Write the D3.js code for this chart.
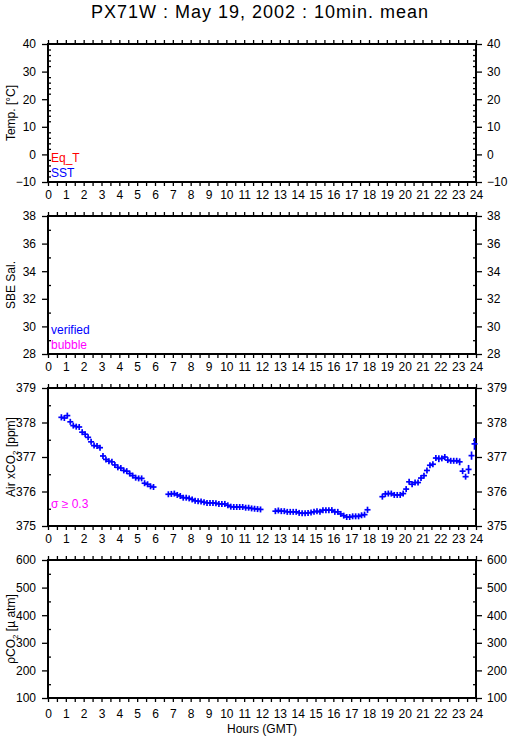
<!DOCTYPE html>
<html>
<head>
<meta charset="utf-8">
<script src="https://cdn.jsdelivr.net/npm/d3@7"></script>
<style>
body { margin: 0; background: #fff; }
text { font-family: "Liberation Sans", Arial, Helvetica, sans-serif; }
</style>
</head>
<body>
<script>
// 10-minute means of Air xCO2, four continuous runs (start time of each run)
const runStart = ['00:45', '06:45', '12:45', '18:45']
const xco2Run1 = [378.15, 378.13, 378.20, 378.02, 377.91, 377.88, 377.87, 377.72, 377.66, 377.57, 377.44, 377.33,
    377.32, 377.27, 377.03, 376.93, 376.88, 376.86, 376.77, 376.70, 376.68, 376.61, 376.59, 376.52,
    376.46, 376.40, 376.38, 376.38, 376.24, 376.21, 376.15, 376.13]
const xco2Run2 = [375.92, 375.93, 375.94, 375.90, 375.87, 375.82, 375.82, 375.80, 375.77, 375.73, 375.72, 375.71,
    375.69, 375.67, 375.67, 375.67, 375.66, 375.64, 375.64, 375.64, 375.60, 375.56, 375.55, 375.55,
    375.55, 375.55, 375.53, 375.53, 375.51, 375.50, 375.49, 375.48]
const xco2Run3 = [375.43, 375.45, 375.43, 375.43, 375.41, 375.41, 375.41, 375.41, 375.38, 375.37, 375.37, 375.38,
    375.39, 375.41, 375.43, 375.41, 375.46, 375.46, 375.46, 375.46, 375.41, 375.41, 375.35, 375.30,
    375.26, 375.26, 375.28, 375.28, 375.28, 375.31, 375.33, 375.47]
const xco2Run4 = [375.85, 375.93, 375.94, 375.94, 375.90, 375.90, 375.90, 375.94, 376.07, 376.28, 376.21, 376.26,
    376.26, 376.39, 376.46, 376.61, 376.76, 376.79, 376.97, 376.95, 376.96, 377.00, 376.91, 376.89,
    376.89, 376.89, 376.86, 376.59, 376.43, 376.64, 377.04, 377.38]
// standard deviation of each 10-minute mean
const sdRun1 = [0.09, 0.07, 0.06, 0.04, 0.05, 0.06, 0.05, 0.06, 0.05, 0.06, 0.07, 0.05,
    0.04, 0.04, 0.06, 0.04, 0.03, 0.04, 0.04, 0.03, 0.03, 0.04, 0.03, 0.04,
    0.04, 0.07, 0.08, 0.05, 0.03, 0.03, 0.03, 0.02]
const sdRun2 = [0.04, 0.03, 0.04, 0.03, 0.03, 0.03, 0.03, 0.03, 0.03, 0.03, 0.03, 0.03,
    0.03, 0.03, 0.03, 0.03, 0.03, 0.03, 0.03, 0.03, 0.03, 0.03, 0.03, 0.03,
    0.03, 0.03, 0.03, 0.03, 0.03, 0.03, 0.03, 0.03]
const sdRun3 = [0.03, 0.04, 0.03, 0.03, 0.03, 0.03, 0.03, 0.03, 0.04, 0.04, 0.03, 0.03,
    0.03, 0.04, 0.03, 0.03, 0.04, 0.03, 0.03, 0.03, 0.03, 0.03, 0.03, 0.03,
    0.03, 0.03, 0.04, 0.03, 0.03, 0.03, 0.04, 0.09]
const sdRun4 = [0.03, 0.04, 0.04, 0.03, 0.04, 0.03, 0.03, 0.03, 0.06, 0.07, 0.05, 0.04,
    0.05, 0.07, 0.06, 0.06, 0.06, 0.07, 0.05, 0.10, 0.08, 0.06, 0.05, 0.04,
    0.04, 0.04, 0.10, 0.08, 0.05, 0.13, 0.12, 0.17]

const hourTicks = d3.range(0, 25)
const halfHourTicks = d3.range(0.5, 24, 1)

const tempTicks = [-10, 0, 10, 20, 30, 40]
const salTicks = [28, 30, 32, 34, 36, 38]
const xco2Ticks = [375, 376, 377, 378, 379]
const pco2Ticks = [100, 200, 300, 400, 500, 600]

const blue = '#0000ff', red = '#ff0000', magenta = '#ff00ff'

const w = 509, h = 739
const x0 = 48, x1 = 476
const panelH = 138

const svg = d3.select('body').append('svg')
    .attr('width', w)
    .attr('height', h)

svg.append('text')
    .attr('x', (x0 + x1) / 2 - 2)
    .attr('y', 18)
    .attr('text-anchor', 'middle')
    .style('font-size', '18px')
    .style('letter-spacing', '1px')
    .text('PX71W : May 19, 2002 : 10min. mean')

const xScale = d3.scaleLinear().domain([0, 24]).range([x0, x1])

// title pieces: [text, 'sub'] marks a subscript
const panels = [
    { top: 44, domain: [-10, 40], ticks: tempTicks, minor: 2, title: [['Temp. [°C]']],
      legend: [['Eq_T', red], ['SST', blue]], labelGap: 4 },
    { top: 216, domain: [28, 38], ticks: salTicks, minor: 1, title: [['SBE Sal.']],
      legend: [['verified', blue], ['bubble', magenta]], labelGap: 4 },
    { top: 388, domain: [375, 379], ticks: xco2Ticks, minor: 0.5, title: [['Air xCO'], ['2', 'sub'], [' [ppm]']],
      legend: [['σ ≥ 0.3', magenta]], labelGap: 4 },
    { top: 560, domain: [100, 600], ticks: pco2Ticks, minor: 50, title: [['ρCO'], ['2', 'sub'], [' [µ atm]']],
      legend: [], labelGap: 7 }
]

panels.forEach((p, k) => {
    const g = svg.append('g')
    const bottom = p.top + panelH
    const y = d3.scaleLinear().domain(p.domain).range([bottom, p.top])
    const minorTicks = d3.range(p.domain[0], p.domain[1] + 1e-9, p.minor)
        .filter(v => !p.ticks.some(t => Math.abs(t - v) < 1e-9))

    // hour axes, ticks pointing out of the frame
    g.append('g')
        .attr('transform', `translate(0,${p.top})`)
        .call(d3.axisTop(xScale).tickValues(hourTicks.concat(halfHourTicks)).tickSize(4).tickSizeOuter(0).tickFormat(''))
    g.append('g')
        .attr('transform', `translate(0,${bottom})`)
        .call(d3.axisBottom(xScale).tickValues(halfHourTicks).tickSize(4).tickSizeOuter(0).tickFormat(''))
    g.append('g')
        .attr('transform', `translate(0,${bottom})`)
        .call(d3.axisBottom(xScale).tickValues(hourTicks).tickSize(4).tickSizeOuter(0).tickPadding(p.labelGap).tickFormat(d3.format('d')))

    // value axes: major ticks out, minor ticks in
    g.append('g')
        .attr('transform', `translate(${x0},0)`)
        .call(d3.axisLeft(y).tickValues(p.ticks).tickSize(6).tickSizeOuter(0).tickPadding(6).tickFormat(d3.format('d')))
    g.append('g')
        .attr('transform', `translate(${x0},0)`)
        .call(d3.axisLeft(y).tickValues(minorTicks).tickSize(-3).tickSizeOuter(0).tickFormat(''))
    g.append('g')
        .attr('transform', `translate(${x1},0)`)
        .call(d3.axisRight(y).tickValues(p.ticks).tickSize(6).tickSizeOuter(0).tickPadding(5).tickFormat(d3.format('d')))
    g.append('g')
        .attr('transform', `translate(${x1},0)`)
        .call(d3.axisRight(y).tickValues(minorTicks).tickSize(-3).tickSizeOuter(0).tickFormat(''))

    g.selectAll('.domain').remove()
    g.selectAll('.tick line').attr('stroke', '#000').attr('stroke-width', 1.3)
    g.selectAll('.tick text').style('font-size', '12px').attr('fill', '#000')
        .style('font-family', '"Liberation Sans", Arial, sans-serif')

    g.append('rect')
        .attr('x', x0)
        .attr('y', p.top)
        .attr('width', x1 - x0)
        .attr('height', panelH)
        .attr('fill', 'none')
        .attr('stroke', '#000')
        .attr('stroke-width', 2)

    const cy = p.top + panelH / 2
    const title = g.append('text')
        .attr('transform', `translate(14.5,${cy}) rotate(-90)`)
        .attr('text-anchor', 'middle')
        .style('font-size', '12px')
    p.title.forEach(part => {
        const t = title.append('tspan').text(part[0])
        if (part[1] === 'sub') t.style('font-size', '8px').attr('baseline-shift', '-3')
    })

    p.legend.forEach((l, i) => {
        const n = p.legend.length
        g.append('text')
            .attr('x', 51)
            .attr('y', n === 1 ? bottom - 18 : bottom - 20 + i * 15)
            .attr('fill', l[1])
            .style('font-size', '12px')
            .text(l[0])
    })

    p.y = y
})

// Air xCO2 crosses: horizontal bar for the 10-min step, vertical bar for the std. dev.
const runs = [[xco2Run1, sdRun1], [xco2Run2, sdRun2], [xco2Run3, sdRun3], [xco2Run4, sdRun4]]
let points = []
runs.forEach((r, k) => {
    const [hh, mm] = runStart[k].split(':').map(Number)
    r[0].forEach((v, i) => {
        points.push({ t: hh + (mm + i * 10) / 60, v: v, sd: r[1][i] })
    })
})

const yCO2 = panels[2].y
const marks = svg.append('g').attr('stroke', blue).attr('stroke-width', 1.7)
marks.selectAll('.hbar')
    .data(points)
    .enter()
    .append('line')
    .attr('x1', d => xScale(d.t) - 3)
    .attr('x2', d => xScale(d.t) + 3)
    .attr('y1', d => yCO2(d.v))
    .attr('y2', d => yCO2(d.v))
marks.selectAll('.vbar')
    .data(points)
    .enter()
    .append('line')
    .attr('x1', d => xScale(d.t))
    .attr('x2', d => xScale(d.t))
    .attr('y1', d => Math.min(yCO2(d.v + d.sd), yCO2(d.v) - 3))
    .attr('y2', d => Math.max(yCO2(d.v - d.sd), yCO2(d.v) + 3))

svg.append('text')
    .attr('x', (x0 + x1) / 2)
    .attr('y', 733)
    .attr('text-anchor', 'middle')
    .style('font-size', '12px')
    .text('Hours (GMT)')
</script>
</body>
</html>
